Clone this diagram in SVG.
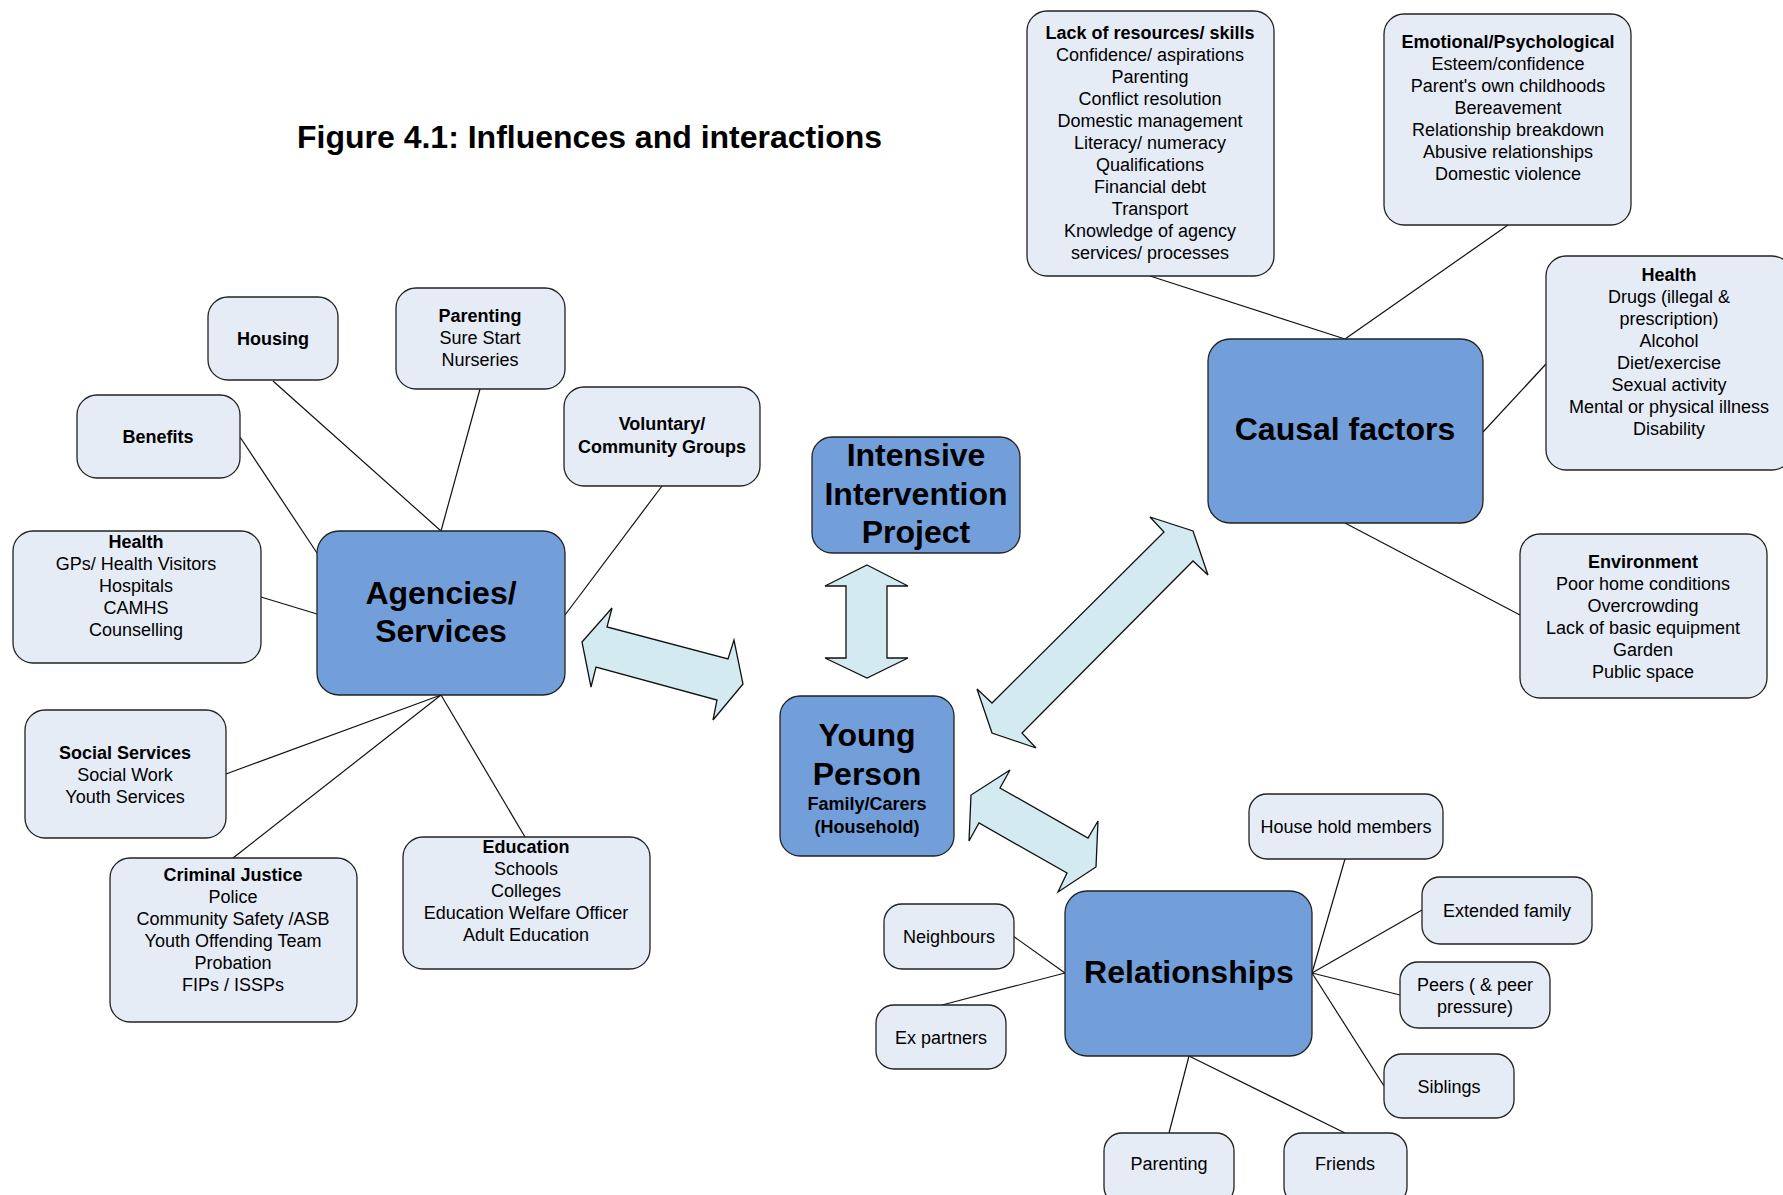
<svg xmlns="http://www.w3.org/2000/svg" width="1783" height="1195" viewBox="0 0 1783 1195">
  <style>
    text { font-family: "Liberation Sans", Arial, sans-serif; fill: #000; text-anchor: middle; }
    .title { font-size: 32px; font-weight: bold; text-anchor: start; }
    .box { fill: #E6ECF6; stroke: #222; stroke-width: 1.3; }
    .hub { fill: #729EDA; stroke: #222; stroke-width: 1.3; }
    .t { font-size: 18px; }
    .b { font-size: 18px; font-weight: bold; }
    .big { font-size: 32px; font-weight: bold; }
    .link { stroke: #111; stroke-width: 1.2; fill: none; }
    .arrow { fill: #D3EBF0; stroke: #111; stroke-width: 1.3; stroke-linejoin: miter; }
  </style>

  <rect width="1783" height="1195" fill="#fff"/>

  <text class="title" x="297" y="148">Figure 4.1: Influences and interactions</text>

  <!-- connectors -->
  <g id="connectors">
    <!-- agencies/services spokes -->
    <line class="link" x1="273" y1="381" x2="441" y2="531"/>
    <line class="link" x1="480" y1="389" x2="441" y2="531"/>
    <line class="link" x1="240" y1="437" x2="317" y2="553"/>
    <line class="link" x1="662" y1="486" x2="565" y2="615"/>
    <line class="link" x1="261" y1="597" x2="317" y2="614"/>
    <line class="link" x1="226" y1="774" x2="441" y2="695"/>
    <line class="link" x1="233" y1="858" x2="441" y2="695"/>
    <line class="link" x1="525" y1="837" x2="441" y2="695"/>
    <!-- causal factors spokes -->
    <line class="link" x1="1150" y1="276" x2="1345" y2="339"/>
    <line class="link" x1="1508" y1="225" x2="1345" y2="339"/>
    <line class="link" x1="1546" y1="364" x2="1483" y2="432"/>
    <line class="link" x1="1520" y1="615" x2="1345" y2="523"/>
    <!-- relationships spokes -->
    <line class="link" x1="1345" y1="859" x2="1312" y2="973"/>
    <line class="link" x1="1422" y1="910" x2="1312" y2="973"/>
    <line class="link" x1="1400" y1="995" x2="1312" y2="973"/>
    <line class="link" x1="1384" y1="1086" x2="1312" y2="973"/>
    <line class="link" x1="1345" y1="1133" x2="1189" y2="1056"/>
    <line class="link" x1="1169" y1="1133" x2="1189" y2="1056"/>
    <line class="link" x1="1013" y1="936" x2="1065" y2="973"/>
    <line class="link" x1="942" y1="1005" x2="1065" y2="973"/>

    <!-- double block arrows around the young person -->
    <polygon class="arrow" points="582,642 612,608 607,627 728,659 734,640 743,684 713,720 717,700 596,667 591,687"/>
    <polygon class="arrow" points="867,565 908,586 887,586 887,658 908,658 867,678 825,658 846,658 846,586 825,586"/>
    <polygon class="arrow" points="1150,517 1193,531 1208,575 1193,561 1022,733 1036,748 992,733 977,689 992,703 1164,532"/>
    <polygon class="arrow" points="1010,770 1000,788 1088,838 1098,821 1096,867 1058,892 1067,873 979,823 969,841 971,795"/>
  </g>

  <!-- agencies / services cluster -->
  <g id="housing">
    <rect class="box" x="208" y="297" width="130" height="83" rx="20"/>
    <text class="b" x="273" y="345">Housing</text>
  </g>
  <g id="parenting-services">
    <rect class="box" x="396" y="288" width="169" height="101" rx="20"/>
    <text class="b" x="480" y="322">Parenting</text>
    <text class="t" x="480" y="344">Sure Start</text>
    <text class="t" x="480" y="366">Nurseries</text>
  </g>
  <g id="benefits">
    <rect class="box" x="77" y="395" width="163" height="83" rx="20"/>
    <text class="b" x="158" y="443">Benefits</text>
  </g>
  <g id="voluntary">
    <rect class="box" x="564" y="387" width="196" height="99" rx="20"/>
    <text class="b" x="662" y="430">Voluntary/</text>
    <text class="b" x="662" y="453">Community Groups</text>
  </g>
  <g id="health-services">
    <rect class="box" x="13" y="531" width="248" height="132" rx="20"/>
    <text class="b" x="136" y="548">Health</text>
    <text class="t" x="136" y="570">GPs/ Health Visitors</text>
    <text class="t" x="136" y="592">Hospitals</text>
    <text class="t" x="136" y="614">CAMHS</text>
    <text class="t" x="136" y="636">Counselling</text>
  </g>
  <g id="agencies">
    <rect class="hub" x="317" y="531" width="248" height="164" rx="22"/>
    <text class="big" x="441" y="604">Agencies/</text>
    <text class="big" x="441" y="642">Services</text>
  </g>
  <g id="social-services">
    <rect class="box" x="25" y="710" width="201" height="128" rx="20"/>
    <text class="b" x="125" y="759">Social Services</text>
    <text class="t" x="125" y="781">Social Work</text>
    <text class="t" x="125" y="803">Youth Services</text>
  </g>
  <g id="criminal-justice">
    <rect class="box" x="110" y="858" width="247" height="164" rx="20"/>
    <text class="b" x="233" y="881">Criminal Justice</text>
    <text class="t" x="233" y="903">Police</text>
    <text class="t" x="233" y="925">Community Safety /ASB</text>
    <text class="t" x="233" y="947">Youth Offending Team</text>
    <text class="t" x="233" y="969">Probation</text>
    <text class="t" x="233" y="991">FIPs / ISSPs</text>
  </g>
  <g id="education">
    <rect class="box" x="403" y="837" width="247" height="132" rx="20"/>
    <text class="b" x="526" y="853">Education</text>
    <text class="t" x="526" y="875">Schools</text>
    <text class="t" x="526" y="897">Colleges</text>
    <text class="t" x="526" y="919">Education Welfare Officer</text>
    <text class="t" x="526" y="941">Adult Education</text>
  </g>

  <!-- centre -->
  <g id="iip">
    <rect class="hub" x="812" y="437" width="208" height="116" rx="20"/>
    <text class="big" x="916" y="466">Intensive</text>
    <text class="big" x="916" y="505">Intervention</text>
    <text class="big" x="916" y="543">Project</text>
  </g>
  <g id="young-person">
    <rect class="hub" x="780" y="696" width="174" height="160" rx="20"/>
    <text class="big" x="867" y="746">Young</text>
    <text class="big" x="867" y="785">Person</text>
    <text class="b" x="867" y="810">Family/Carers</text>
    <text class="b" x="867" y="833">(Household)</text>
  </g>

  <!-- causal factors cluster -->
  <g id="causal-factors">
    <rect class="hub" x="1208" y="339" width="275" height="184" rx="22"/>
    <text class="big" x="1345" y="440">Causal factors</text>
  </g>
  <g id="lack-of-resources">
    <rect class="box" x="1027" y="11" width="247" height="265" rx="20"/>
    <text class="b" x="1150" y="39">Lack of resources/ skills</text>
    <text class="t" x="1150" y="61">Confidence/ aspirations</text>
    <text class="t" x="1150" y="83">Parenting</text>
    <text class="t" x="1150" y="105">Conflict resolution</text>
    <text class="t" x="1150" y="127">Domestic management</text>
    <text class="t" x="1150" y="149">Literacy/ numeracy</text>
    <text class="t" x="1150" y="171">Qualifications</text>
    <text class="t" x="1150" y="193">Financial debt</text>
    <text class="t" x="1150" y="215">Transport</text>
    <text class="t" x="1150" y="237">Knowledge of agency</text>
    <text class="t" x="1150" y="259">services/ processes</text>
  </g>
  <g id="emotional">
    <rect class="box" x="1384" y="14" width="247" height="211" rx="20"/>
    <text class="b" x="1508" y="48">Emotional/Psychological</text>
    <text class="t" x="1508" y="70">Esteem/confidence</text>
    <text class="t" x="1508" y="92">Parent's own childhoods</text>
    <text class="t" x="1508" y="114">Bereavement</text>
    <text class="t" x="1508" y="136">Relationship breakdown</text>
    <text class="t" x="1508" y="158">Abusive relationships</text>
    <text class="t" x="1508" y="180">Domestic violence</text>
  </g>
  <g id="health-causal">
    <rect class="box" x="1546" y="256" width="246" height="214" rx="20"/>
    <text class="b" x="1669" y="281">Health</text>
    <text class="t" x="1669" y="303">Drugs (illegal &amp;</text>
    <text class="t" x="1669" y="325">prescription)</text>
    <text class="t" x="1669" y="347">Alcohol</text>
    <text class="t" x="1669" y="369">Diet/exercise</text>
    <text class="t" x="1669" y="391">Sexual activity</text>
    <text class="t" x="1669" y="413">Mental or physical illness</text>
    <text class="t" x="1669" y="435">Disability</text>
  </g>
  <g id="environment">
    <rect class="box" x="1520" y="534" width="247" height="164" rx="20"/>
    <text class="b" x="1643" y="568">Environment</text>
    <text class="t" x="1643" y="590">Poor home conditions</text>
    <text class="t" x="1643" y="612">Overcrowding</text>
    <text class="t" x="1643" y="634">Lack of basic equipment</text>
    <text class="t" x="1643" y="656">Garden</text>
    <text class="t" x="1643" y="678">Public space</text>
  </g>

  <!-- relationships cluster -->
  <g id="relationships">
    <rect class="hub" x="1065" y="891" width="247" height="165" rx="22"/>
    <text class="big" x="1189" y="983">Relationships</text>
  </g>
  <g id="household-members">
    <rect class="box" x="1249" y="794" width="194" height="65" rx="18"/>
    <text class="t" x="1346" y="833">House hold members</text>
  </g>
  <g id="extended-family">
    <rect class="box" x="1422" y="877" width="170" height="67" rx="18"/>
    <text class="t" x="1507" y="917">Extended family</text>
  </g>
  <g id="peers">
    <rect class="box" x="1400" y="962" width="150" height="66" rx="18"/>
    <text class="t" x="1475" y="991">Peers ( &amp; peer</text>
    <text class="t" x="1475" y="1013">pressure)</text>
  </g>
  <g id="siblings">
    <rect class="box" x="1384" y="1054" width="130" height="64" rx="18"/>
    <text class="t" x="1449" y="1093">Siblings</text>
  </g>
  <g id="friends">
    <rect class="box" x="1284" y="1133" width="123" height="72" rx="18"/>
    <text class="t" x="1345" y="1170">Friends</text>
  </g>
  <g id="parenting-relationships">
    <rect class="box" x="1104" y="1133" width="130" height="72" rx="18"/>
    <text class="t" x="1169" y="1170">Parenting</text>
  </g>
  <g id="neighbours">
    <rect class="box" x="884" y="904" width="130" height="65" rx="18"/>
    <text class="t" x="949" y="943">Neighbours</text>
  </g>
  <g id="ex-partners">
    <rect class="box" x="876" y="1005" width="130" height="64" rx="18"/>
    <text class="t" x="941" y="1044">Ex partners</text>
  </g>
</svg>
